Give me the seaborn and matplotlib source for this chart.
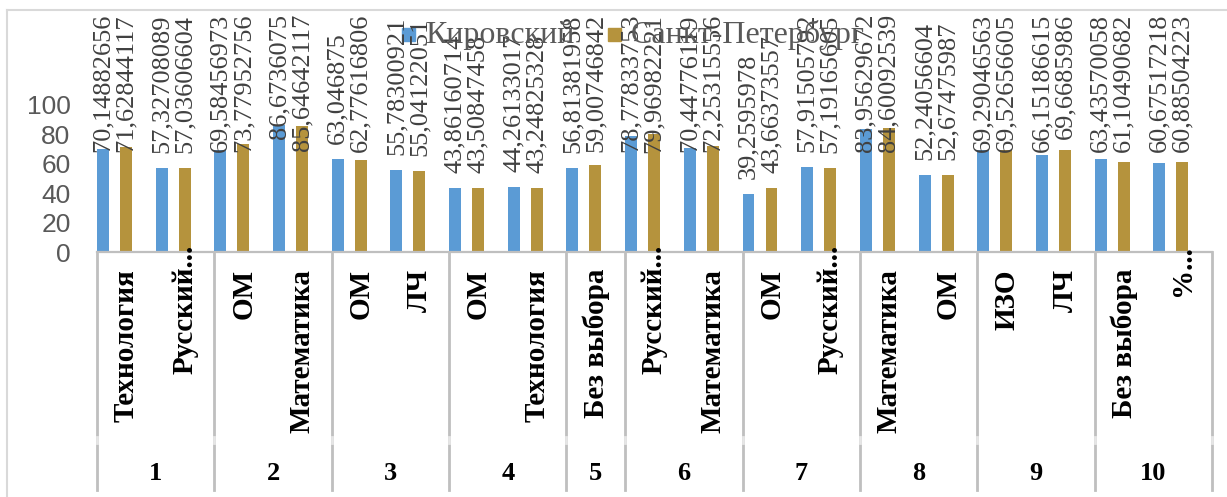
import matplotlib
matplotlib.use('Agg')
import pandas as pd
import seaborn as sns
import matplotlib.pyplot as plt
from matplotlib.lines import Line2D
from matplotlib.patches import Rectangle
from matplotlib.transforms import blended_transform_factory

# данные
groups = ['1', '2', '3', '4', '5', '6', '7', '8', '9', '10']
group_sizes = [2, 2, 2, 2, 1, 2, 2, 2, 2, 2]
subjects = ['Технология', 'Русский...', 'ОМ', 'Математика', 'ОМ', 'ЛЧ', 'ОМ', 'Технология',
            'Без выбора', 'Русский...', 'Математика', 'ОМ', 'Русский...', 'Математика', 'ОМ',
            'ИЗО', 'ЛЧ', 'Без выбора', '%...']
kirov = [70.14882656, 57.32708089, 69.58456973, 86.6736075, 63.046875, 55.78300921,
         43.86160714, 44.26133017, 56.81381958, 78.77833753, 70.44776119, 39.2595978,
         57.91505792, 83.95629672, 52.24056604, 69.29046563, 66.15186615, 63.43570058,
         60.67517218]
spb = [71.62844117, 57.03606604, 73.77952756, 85.64642117, 62.77616806, 55.04122051,
       43.50847458, 43.24825328, 59.00746842, 79.96982221, 72.25315556, 43.66373557,
       57.19165605, 84.60092539, 52.67475987, 69.52656605, 69.6685986, 61.10490682,
       60.88504223]
series_names = ['Кировский', 'Санкт-Петербург']
colors = ['#5B9BD5', '#B5933D']

W, H = 1227, 497
fig = plt.figure(figsize=(W / 100, H / 100), dpi=100)
ax = fig.add_axes([97 / W, (H - 252) / H, 1115 / W, 147 / H])

df = pd.DataFrame({
    'slot': list(range(len(subjects))) * 2,
    'value': kirov + spb,
    'region': [series_names[0]] * len(kirov) + [series_names[1]] * len(spb),
})
sns.barplot(data=df, x='slot', y='value', hue='region', hue_order=series_names,
            palette=colors, saturation=1, width=0.784, gap=0.48, errorbar=None,
            legend=False, ax=ax)

# слоты таблицы сдвинуты относительно пар столбцов
shift = 0.298
ax.set_xlim(-shift, len(subjects) - shift)
ax.set_ylim(0, 100)
ax.set_yticks(range(0, 101, 20))
ax.set_xticks([])
ax.set_xlabel('')
ax.set_ylabel('')
ax.tick_params(axis='y', length=0, pad=19, labelsize=19, labelcolor='#595959')
for lab in ax.get_yticklabels():
    lab.set_family('Liberation Sans')
for s in ['left', 'top', 'right']:
    ax.spines[s].set_visible(False)
ax.spines['bottom'].set_color('#BFBFBF')
ax.spines['bottom'].set_linewidth(1.6)

# подписи данных
fig.canvas.draw()
renderer = fig.canvas.get_renderer()
top_limit = H - 14
for container, vals in zip(ax.containers, [kirov, spb]):
    for bar, v in zip(container, vals):
        xc = bar.get_x() + bar.get_width() / 2
        xd, yd = ax.transData.transform((xc, v))
        t = fig.text(xd / W, (yd + 15) / H, repr(v).replace('.', ','), rotation=90,
                     ha='center', va='bottom', fontsize=19, family='Liberation Serif',
                     color='#404040')
        bb = t.get_window_extent(renderer)
        if bb.y1 > top_limit:
            t.set_y((yd + 15 - (bb.y1 - top_limit)) / H)

# таблица категорий
tr = blended_transform_factory(ax.transData, fig.transFigure)
bounds = [0]
for n in group_sizes:
    bounds.append(bounds[-1] + n)
for b in bounds:
    x = b - shift
    fig.add_artist(Line2D([x, x], [1 - 252 / H, 1 - 490 / H], transform=tr,
                          color='#BFBFBF', lw=2))
    fig.add_artist(Line2D([x, x], [1 - 437 / H, 1 - 443 / H], transform=tr,
                          color='#E6E6E6', lw=2))

for i, name in enumerate(subjects):
    y_top = 245 if name.endswith('...') else 269
    fig.text(i - shift + 0.5, 1 - y_top / H, name, transform=tr, rotation=90,
             ha='center', va='top', fontsize=21, fontweight='bold',
             family='Liberation Serif', color='black')

for g, a, b in zip(groups, bounds[:-1], bounds[1:]):
    fig.text((a + b) / 2 - shift, 1 - 473 / H, g, transform=tr, ha='center',
             va='center', fontsize=19, fontweight='bold', family='Liberation Serif',
             color='black')

# легенда
legend_x = [402, 608]
for x0, name, c in zip(legend_x, series_names, colors):
    fig.add_artist(Rectangle((x0 / W, 1 - 41 / H), 13 / W, 13 / H,
                             transform=fig.transFigure, color=c))
    fig.text((x0 + 23) / W, 1 - 35 / H, name, ha='left', va='center', fontsize=23,
             family='Liberation Serif', color='#595959')

# рамка диаграммы
fig.add_artist(Line2D([7 / W, 7 / W], [1 - 10 / H, 0], color='#D9D9D9', lw=1.5))
fig.add_artist(Line2D([7 / W, 1], [1 - 10 / H, 1 - 10 / H], color='#D9D9D9', lw=1.5))

fig.savefig('out.png', dpi=100)
